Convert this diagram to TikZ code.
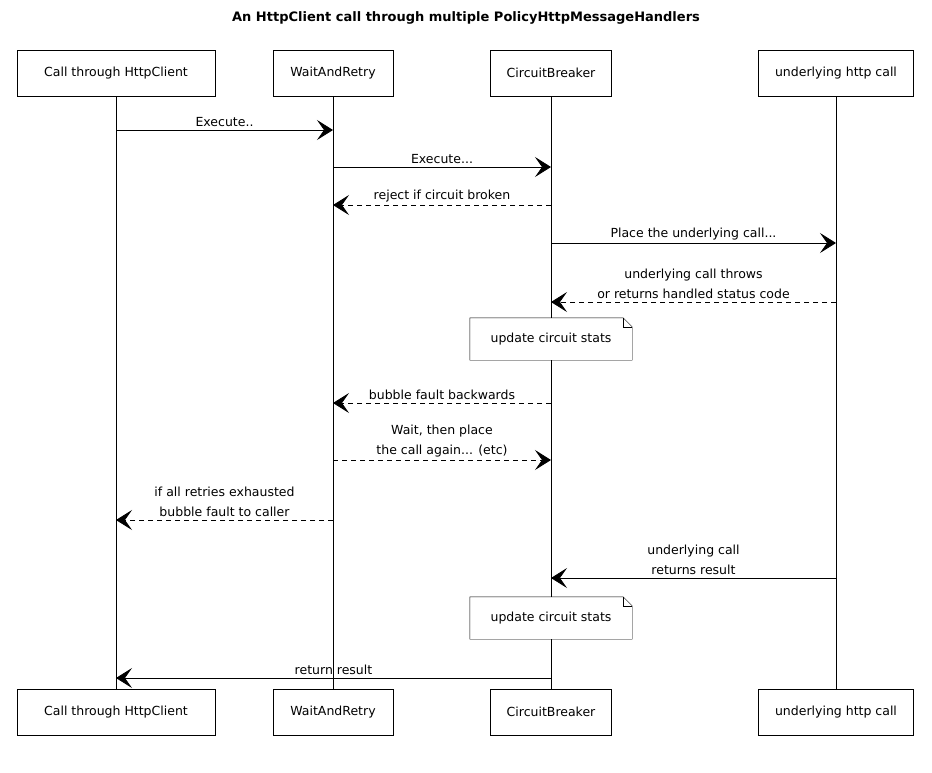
\documentclass[tikz,border=0pt]{standalone}
\usepackage{fontspec}
\setmainfont{DejaVu Sans}
\usepackage{tikz}
\usetikzlibrary{positioning,arrows.meta,calc}

\tikzset{
  actor/.style={draw, fill=white, minimum height=46, inner sep=4pt, font=\fontsize{12.5}{15}\selectfont},
  lifeline/.style={draw, thin},
  msg/.style={thick, -{Stealth[length=16pt,width=20pt,inset=7pt]}},
  reply/.style={msg, dash pattern=on 5pt off 4pt},
  lbl/.style={font=\fontsize{12.5}{20}\selectfont, align=center, inner sep=3pt},
  note/.style={fill=white, minimum width=162, minimum height=42, font=\fontsize{12.5}{15}\selectfont},
}

\begin{document}
\begin{tikzpicture}[x=1pt, y=-1pt]
\useasboundingbox (0,0) rectangle (932,772);

% Title
\node[font=\fontsize{13}{16}\selectfont\bfseries] (title) at (466,18) {An HttpClient call through multiple PolicyHttpMessageHandlers};

% Participants (top)
\node[actor, minimum width=198] (callT) at (116,73) {Call through HttpClient};
\node[actor, minimum width=120] (retryT) at (333,73) {WaitAndRetry};
\node[actor, minimum width=121] (cbT) at (551,73) {CircuitBreaker};
\node[actor, minimum width=155] (httpT) at (836,73) {underlying http call};

% Participants (bottom)
\node[actor, minimum width=198] (callB) at (116,712) {Call through HttpClient};
\node[actor, minimum width=120] (retryB) at (333,712) {WaitAndRetry};
\node[actor, minimum width=121] (cbB) at (551,712) {CircuitBreaker};
\node[actor, minimum width=155] (httpB) at (836,712) {underlying http call};

% Lifelines
\draw[lifeline] (callT) -- (callB);
\draw[lifeline] (retryT) -- (retryB);
\draw[lifeline] (cbT) -- (cbB);
\draw[lifeline] (httpT) -- (httpB);

% Messages
\draw[msg] (callT |- 0,130) -- node[lbl, above] {Execute..} (retryT |- 0,130);
\draw[msg] (retryT |- 0,167) -- node[lbl, above] {Execute...} (cbT |- 0,167);
\draw[reply] (cbT |- 0,205) -- node[lbl, above] {reject if circuit broken} (retryT |- 0,205);
\draw[msg] (cbT |- 0,243) -- node[lbl, above] {Place the underlying call...} (httpT |- 0,243);
\draw[reply] (httpT |- 0,302) -- node[lbl, above] {underlying call throws\\or returns handled status code} (cbT |- 0,302);

% Note 1
\node[note] (note1) at (551,339) {update circuit stats};
\draw (note1.south west) -- (note1.north west) -- ([xshift=-9]note1.north east)
  -- ([yshift=-9]note1.north east) -- (note1.south east) -- cycle;
\draw ([xshift=-9]note1.north east) |- ([yshift=-9]note1.north east);

\draw[reply] (cbT |- 0,403) -- node[lbl, above] {bubble fault backwards} (retryT |- 0,403);
\draw[reply] (retryT |- 0,460) -- node[lbl, above] {Wait, then place\\the call again... (etc)} (cbT |- 0,460);
\draw[reply] (retryT |- 0,520) -- node[lbl, above] {if all retries exhausted\\bubble fault to caller} (callT |- 0,520);
\draw[msg] (httpT |- 0,578) -- node[lbl, above] {underlying call\\returns result} (cbT |- 0,578);

% Note 2
\node[note] (note2) at (551,618) {update circuit stats};
\draw (note2.south west) -- (note2.north west) -- ([xshift=-9]note2.north east)
  -- ([yshift=-9]note2.north east) -- (note2.south east) -- cycle;
\draw ([xshift=-9]note2.north east) |- ([yshift=-9]note2.north east);

\draw[msg] (cbT |- 0,678) -- node[lbl, above] {return result} (callT |- 0,678);
\end{tikzpicture}
\end{document}
